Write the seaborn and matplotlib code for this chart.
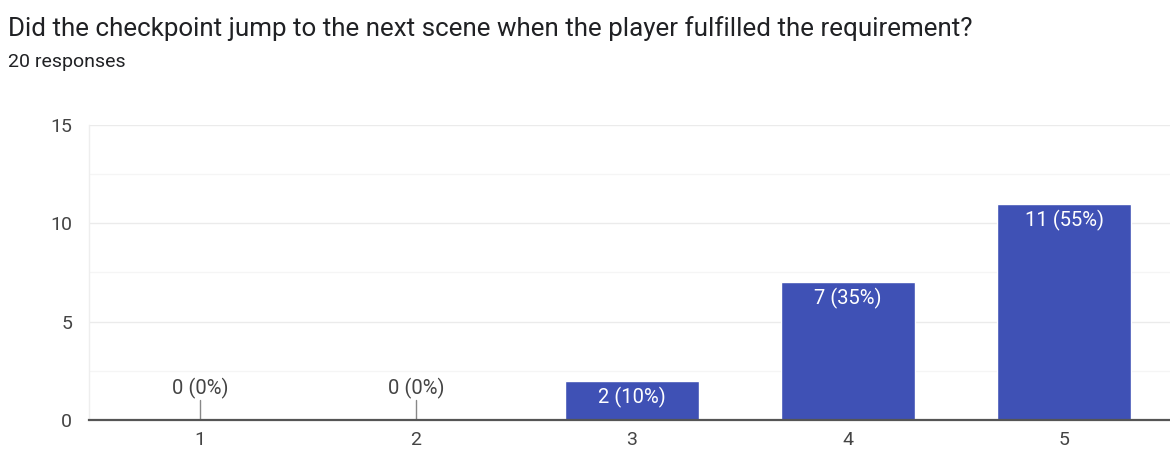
import matplotlib
matplotlib.use("Agg")
import matplotlib.pyplot as plt
import seaborn as sns
import pandas as pd

# Survey answers for the checkpoint question
ratings = ["1", "2", "3", "4", "5"]
counts = [0, 0, 2, 7, 11]
percents = [0, 0, 10, 35, 55]
title = "Did the checkpoint jump to the next scene when the player fulfilled the requirement?"
subtitle = "20 responses"

sns.set_theme(style="white")
plt.rcParams["font.family"] = ["Roboto", "DejaVu Sans"]

df = pd.DataFrame({"rating": ratings, "count": counts})

fig = plt.figure(figsize=(11.7, 4.5), dpi=100)
ax = fig.add_axes([0.076, 0.0667, 0.924, 0.6556])

bar_color = "#3F51B5"
sns.barplot(data=df, x="rating", y="count", color=bar_color, width=0.62,
            saturation=1, ax=ax, zorder=3)

ax.set_ylim(0, 15)
ax.set_xlim(-0.514, 4.49)
ax.set_yticks([0, 5, 10, 15])
ax.set_yticks([2.5, 7.5, 12.5], minor=True)
ax.grid(axis="y", which="major", color="#ebebeb", linewidth=1, zorder=0)
ax.grid(axis="y", which="minor", color="#f5f5f5", linewidth=1, zorder=0)
ax.set_xlabel("")
ax.set_ylabel("")
for side in ["top", "right"]:
    ax.spines[side].set_visible(False)
ax.spines["left"].set_color("#eeeeee")
ax.spines["left"].set_linewidth(1)
ax.spines["bottom"].set_color("#555555")
ax.spines["bottom"].set_linewidth(1.6)
ax.spines["bottom"].set_zorder(5)
ax.tick_params(axis="both", which="both", length=0, labelsize=14,
               labelcolor="#444444")
ax.tick_params(axis="y", pad=12)
ax.tick_params(axis="x", pad=8)

for i, (c, p) in enumerate(zip(counts, percents)):
    label = f"{c} ({p}%)"
    if c == 0:
        ax.plot([i, i], [0, 1.0], color="#888888", linewidth=1, zorder=4)
        ax.text(i, 1.05, label, ha="center", va="bottom", fontsize=14.5,
                color="#444444", zorder=5)
    else:
        ax.text(i, c - 0.3, label, ha="center", va="top", fontsize=14.5,
                color="white", zorder=5)

fig.text(0.007, 0.937, title, fontsize=18.7, color="#202124", va="center")
fig.text(0.007, 0.862, subtitle, fontsize=14, color="#202124", va="center")

fig.savefig("out.png", dpi=100, facecolor="white")
